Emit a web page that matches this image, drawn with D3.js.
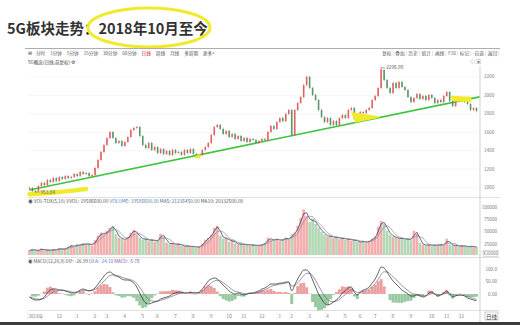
<!DOCTYPE html>
<html>
<head>
<meta charset="utf-8">
<script src="https://cdn.jsdelivr.net/npm/d3@7"></script>
<style>
  body { margin: 0; background: #fff; }
  text { font-family: "Noto Sans CJK SC", "Noto Sans", sans-serif; }
</style>
</head>
<body>
<div id="chart"></div>
<script>
// 收盘价 (约每3个交易日一个点)
const closes = [997, 964, 958, 1018, 1051, 1029, 1083, 1062, 1105, 1072, 1116, 1094, 1126, 1105, 1116, 1148, 1126, 1170, 1148, 1159,
  1126, 1137, 1213, 1299, 1386, 1462, 1537, 1602, 1537, 1483, 1505, 1451, 1494, 1548, 1624, 1646, 1656, 1559, 1462, 1429,
  1483, 1408, 1440, 1375, 1418, 1364, 1397, 1354, 1408, 1375, 1386, 1354, 1408, 1375, 1418, 1364, 1331, 1354, 1408, 1440,
  1483, 1570, 1656, 1678, 1635, 1581, 1613, 1548, 1581, 1527, 1559, 1505, 1537, 1494, 1527, 1516, 1483, 1505, 1527, 1516,
  1602, 1667, 1635, 1710, 1753, 1721, 1797, 1840, 1570, 1840, 1916, 1980, 2110, 2197, 2078, 2002, 1948, 1840, 1764, 1710,
  1753, 1678, 1721, 1678, 1753, 1786, 1753, 1840, 1862, 1743, 1732, 1818, 1808, 1840, 1862, 1948, 1991, 2078, 2272, 2164,
  2078, 2024, 2132, 2078, 2143, 2089, 2056, 1980, 1926, 1970, 2013, 1959, 1991, 1948, 2002, 1970, 1916, 1948, 1926, 1991,
  2035, 1937, 1883, 1948, 1937, 1970, 1926, 1905, 1840, 1862, 1829];
const firstOpen = 985;

// 成交量 (x10000)
const volumes = [12000, 15000, 11000, 13000, 16000, 12000, 14000, 11000, 15000, 13000, 17000, 14000, 16000,
  20000, 23000, 19000, 25000, 22000, 27000, 24000, 26000, 22000,
  33000, 42000, 48000, 44000, 52000, 58000, 62000,
  45000, 38000, 36000, 33000, 40000,
  48000, 54000, 45000,
  38000, 34000, 36000, 31000, 35000, 30000, 33000,
  46000, 40000,
  28000, 25000, 27000, 23000, 26000, 22000,
  20000, 22000, 19000, 21000, 18000, 20000,
  26000, 34000, 38000, 44000,
  58000, 62000,
  42000, 36000, 38000, 30000, 33000,
  27000, 24000, 26000, 23000, 25000, 22000, 24000, 21000, 23000,
  24000, 27000,
  38000, 34000,
  33000, 36000, 31000, 35000, 38000, 34000, 45000,
  48000, 62000, 78000, 95000, 82000,
  70000, 76000, 66000, 58000,
  50000, 44000, 40000, 42000, 37000, 40000, 35000,
  38000, 34000, 36000, 32000, 34000, 30000,
  29000, 31000, 28000, 32000, 36000, 40000,
  60000, 72000, 66000,
  52000, 44000, 40000, 38000, 36000,
  37000, 34000, 36000, 33000,
  52000, 46000,
  28000, 24000, 22000, 25000, 21000, 24000, 22000, 25000, 23000,
  36000,
  24000, 22000, 23000, 20000, 22000, 21000, 19000, 21000, 20000, 19000];

// MACD 的 DIF 线
const dif = [-12, -20, -24, -24, -20, -12, 4, 16, 20, 20, 16, 16, 12, 8, 4, 4, 8, 16, 20, 16,
  12, 16, 24, 40, 56, 72, 84, 88, 80, 72, 68, 60, 56, 56, 52, 44, 28, 4, -20, -36,
  -40, -36, -32, -28, -20, -16, -12, -8, 0, 4, 8, 8, 4, 4, 8, 4, 4, 8, 20, 36,
  52, 60, 64, 60, 48, 36, 24, 12, 4, 0, 4, 0, -4, 0, 4, 4, 8, 12, 20, 24,
  32, 40, 40, 40, 44, 44, 48, 48, 12, 36, 60, 80, 96, 96, 84, 56, 28, 0, -20, -36,
  -44, -40, -32, -24, -12, 4, 12, 24, 28, 8, -4, 8, 16, 20, 28, 44, 60, 84, 108, 104,
  88, 68, 52, 40, 28, 16, 8, 0, -8, -8, -4, -8, -12, -8, 4, 8, 0, -8, -4, 4,
  12, 0, -12, -8, -4, -4, -8, -16, -20, -24, -27];

const priceTicks = [1000, 1200, 1400, 1600, 1800, 2000, 2200];
const volTicks = [25000, 50000, 75000, 100000];
const volTickLabels = ["25000", "50000", "75000", "100000"];
const macdTicks = [0, 50, 100];
const macdTickLabels = ["0.00", "50.00", "100.0"];
const monthLabels = ["2018年", "12", "1", "2", "3", "4", "5", "6", "7", "8", "9", "10", "11",
  "12", "1", "2", "3", "4", "5", "6", "7", "8", "9", "10", "11", "12"];
const monthIdx = [0, 10, 16, 22, 26, 32, 38, 43, 49, 55, 61, 67, 72, 78, 84, 88, 94, 100, 106, 111, 116, 122, 128, 135, 140, 145];

const toolLeft = ["分时", "1分钟", "5分钟", "15分钟", "30分钟", "60分钟", "日线", "周线", "月线", "多周期", "更多>"];
const toolRight = ["复权", "叠加", "历史", "统计", "画线", "F10", "标记", "-自选", "返回"];
const highLabel = 2296.98;
const lowLabel = 953.84;

const svg = d3.select("#chart").append("svg").attr("width", 520).attr("height", 325);

const left = 28, axisX = 480;
const x = d3.scaleLinear().domain([0, closes.length - 1]).range([29.5, 476.5]);
const step = x(1) - x(0);
const yP = d3.scaleLinear().domain([1000, 2200]).range([187.7, 76.7]);
const yV = d3.scaleLinear().domain([0, 100000]).range([256.5, 207]);
const yM = d3.scaleLinear().domain([0, 100]).range([294, 269]);

const up = "#dc5454", down = "#4a8c5c";

// 标题
svg.append("text").attr("x", 7).attr("y", 34)
  .attr("font-size", 14.5).attr("font-weight", 700).attr("fill", "#333")
  .text("5G板块走势：2018年10月至今");

// 黄色圈
svg.append("ellipse").attr("cx", 149).attr("cy", 27.5).attr("rx", 61).attr("ry", 19.5)
  .attr("fill", "none").attr("stroke", "#f1ea2c").attr("stroke-width", 3)
  .attr("stroke-dasharray", "300 12");

// 工具栏
svg.append("line").attr("x1", 25).attr("x2", 500).attr("y1", 48.5).attr("y2", 48.5)
  .attr("stroke", "#999").attr("stroke-width", 0.8);
svg.append("text").attr("x", 28).attr("y", 55).attr("font-size", 4.6).attr("fill", "#555").text("⊞");
let tx = 36;
toolLeft.forEach(t => {
  const el = svg.append("text").attr("x", tx).attr("y", 55).attr("font-size", 4.6)
    .attr("fill", t === "日线" ? "#d02020" : "#555").text(t);
  tx += el.node().getComputedTextLength() + 5;
});
let rx = 497;
toolRight.slice().reverse().forEach(t => {
  const el = svg.append("text").attr("x", rx).attr("y", 55).attr("font-size", 4.6)
    .attr("text-anchor", "end").attr("fill", "#555").text(t);
  const w = el.node().getComputedTextLength();
  svg.append("line").attr("x1", rx + 1.8).attr("x2", rx + 1.8).attr("y1", 50.5).attr("y2", 56)
    .attr("stroke", "#ccc").attr("stroke-width", 0.5);
  rx -= w + 4;
});

svg.append("text").attr("x", 28).attr("y", 64).attr("font-size", 4.6).attr("fill", "#444")
  .text("5G概念(日线,前复权) ⚙");
svg.append("text").attr("x", 470).attr("y", 63).attr("font-size", 5).attr("fill", "#666").text("◇ ▣");

// 框线
svg.append("line").attr("x1", axisX).attr("x2", axisX).attr("y1", 66).attr("y2", 322)
  .attr("stroke", "#bbb").attr("stroke-width", 0.7);
[197.5, 257.5, 310.5].forEach(yy => {
  svg.append("line").attr("x1", left).attr("x2", 500).attr("y1", yy).attr("y2", yy)
    .attr("stroke", "#ccc").attr("stroke-width", 0.6);
});

// 价格网格与刻度
priceTicks.forEach(v => {
  svg.append("line").attr("x1", left).attr("x2", axisX).attr("y1", yP(v)).attr("y2", yP(v))
    .attr("stroke", "#f0f0f3").attr("stroke-width", 0.6);
  svg.append("text").attr("x", 484).attr("y", yP(v) + 1.6).attr("font-size", 4.6)
    .attr("fill", "#777").text(v);
});

// 趋势线 (绿色)
const trend = [[0, 975], [150, 1982]];
svg.append("line")
  .attr("x1", x(trend[0][0])).attr("y1", yP(trend[0][1]))
  .attr("x2", x(trend[1][0]) + 3).attr("y2", yP(trend[1][1]))
  .attr("stroke", "#3ec43e").attr("stroke-width", 1.6);

// K 线
const opens = closes.map((c, i) => i ? closes[i - 1] : firstOpen);
const candles = svg.append("g");
closes.forEach((c, i) => {
  const o = opens[i];
  const top = yP(Math.max(o, c)), bot = yP(Math.min(o, c));
  candles.append("line")
    .attr("x1", x(i)).attr("x2", x(i)).attr("y1", top - 1.2).attr("y2", bot + 1.2)
    .attr("stroke", c >= o ? up : down).attr("stroke-width", 0.5);
  candles.append("rect")
    .attr("x", x(i) - 0.8).attr("width", 1.6)
    .attr("y", top).attr("height", Math.max(1, bot - top))
    .attr("fill", c >= o ? up : down).attr("opacity", 0.85);
});

// 最高/最低标注
const iHi = closes.indexOf(d3.max(closes));
const iLo = closes.indexOf(d3.min(closes));
candles.append("line").attr("x1", x(iHi)).attr("x2", x(iHi)).attr("y1", yP(highLabel)).attr("y2", yP(closes[iHi]))
  .attr("stroke", up).attr("stroke-width", 0.8);
candles.append("line").attr("x1", x(iLo)).attr("x2", x(iLo)).attr("y1", yP(lowLabel)).attr("y2", yP(closes[iLo]))
  .attr("stroke", down).attr("stroke-width", 0.8);
svg.append("path").attr("d", `M${x(iHi)},${yP(highLabel)}h4`).attr("stroke", "#555").attr("stroke-width", 0.5);
svg.append("text").attr("x", x(iHi) + 5).attr("y", yP(highLabel) + 1.6).attr("font-size", 4.8)
  .attr("fill", "#555").text(highLabel.toFixed(2));

// 黄色标记
const hl = svg.append("g").attr("fill", "none").attr("stroke", "#f1ea2c").attr("stroke-linecap", "round");
const lineP = d3.line().x(d => x(d[0])).y(d => yP(d[1])).curve(d3.curveBasis);
hl.append("path").attr("d", lineP([[0, 928], [8, 945], [19, 986]])).attr("stroke-width", 4.5);
hl.append("path").attr("d", lineP([[56, 1330], [57, 1345]])).attr("stroke-width", 3);
hl.append("path").attr("d", `M${x(108.3)},${yP(1807)} L${x(117.3)},${yP(1764)} L${x(109.5)},${yP(1712)} Z`)
  .attr("fill", "#f1ea2c").attr("stroke-width", 1.5);
hl.append("path").attr("d", `M${x(141.5)},${yP(1985)} L${x(148)},${yP(1975)} L${x(148)},${yP(1935)} L${x(142.5)},${yP(1940)} Z`)
  .attr("fill", "#f1ea2c").attr("stroke-width", 1.5);

svg.append("path").attr("d", `M${x(iLo) - 1},${yP(lowLabel)}h5`).attr("stroke", "#555").attr("stroke-width", 0.5);
svg.append("text").attr("x", x(iLo) + 5).attr("y", yP(lowLabel) + 1.6).attr("font-size", 4.8)
  .attr("fill", "#555").text(lowLabel.toFixed(2));

// 成交量面板
const volHead = svg.append("text").attr("x", 28).attr("y", 203).attr("font-size", 4.8);
volHead.append("tspan").attr("fill", "#555").text("◉ VOL-TDX(5,10)  VVOL: 19586600.00  ");
volHead.append("tspan").attr("fill", "#4a80b8").text("VOLUME: 19586600.00  ");
volHead.append("tspan").attr("fill", "#4a6a90").text("MA5: 21216450.00  ");
volHead.append("tspan").attr("fill", "#555").text("MA10: 20332500.00");

volumes.forEach((v, i) => {
  svg.append("rect")
    .attr("x", x(i) - step * 0.45).attr("width", step * 0.9)
    .attr("y", yV(v)).attr("height", Math.min(255, yV(0)) - yV(v))
    .attr("fill", closes[i] >= opens[i] ? "#f39a9a" : "#9fcfa4").attr("opacity", 0.8);
});
const ma = (arr, n) => arr.map((d, i) => d3.mean(arr.slice(Math.max(0, i - n + 1), i + 1)));
const lineV = d3.line().x((d, i) => x(i)).y(d => yV(d));
svg.append("path").attr("d", lineV(ma(volumes, 2))).attr("fill", "none").attr("stroke", "#2b2d55").attr("stroke-width", 0.7);
svg.append("path").attr("d", lineV(ma(volumes, 4))).attr("fill", "none").attr("stroke", "#8a8a9a").attr("stroke-width", 0.7);
volTicks.forEach((v, k) => {
  svg.append("text").attr("x", 497).attr("y", yV(v) + 1.6).attr("font-size", 4.6)
    .attr("text-anchor", "end").attr("fill", "#777").text(volTickLabels[k]);
});
svg.append("rect").attr("x", 483).attr("y", 250.5).attr("width", 15).attr("height", 6)
  .attr("fill", "#fff").attr("stroke", "#bbb").attr("stroke-width", 0.5);
svg.append("text").attr("x", 490.5).attr("y", 255).attr("font-size", 4.4).attr("text-anchor", "middle")
  .attr("fill", "#777").text("X10000");

// MACD 面板
const dea = [];
dif.forEach((d, i) => dea.push(i ? dea[i - 1] + 0.4 * (d - dea[i - 1]) : d));
const macd = dif.map((d, i) => 2 * (d - dea[i]));

const mHead = svg.append("text").attr("x", 28).attr("y", 263).attr("font-size", 4.6);
mHead.append("tspan").attr("fill", "#555").text("◉ MACD(12,26,9)  DIF: -26.99  ");
mHead.append("tspan").attr("fill", "#4a80b8").text("DEA: -24.10  ");
mHead.append("tspan").attr("fill", "#8a4a9a").text("MACD: -5.78");

macd.forEach((m, i) => {
  svg.append("rect")
    .attr("x", x(i) - step * 0.5).attr("width", step)
    .attr("y", Math.min(yM(0), yM(m))).attr("height", Math.abs(yM(m) - yM(0)))
    .attr("fill", m >= 0 ? "#e88f8f" : "#86c08f").attr("opacity", 0.85);
});
const lineM = d3.line().x((d, i) => x(i)).y(d => yM(d)).curve(d3.curveMonotoneX);
svg.append("path").attr("d", lineM(dea)).attr("fill", "none").attr("stroke", "#6a6a7a").attr("stroke-width", 0.7);
svg.append("path").attr("d", lineM(dif)).attr("fill", "none").attr("stroke", "#222").attr("stroke-width", 0.7);
macdTicks.forEach((v, k) => {
  svg.append("text").attr("x", 497).attr("y", yM(v) + 1.6).attr("font-size", 4.6)
    .attr("text-anchor", "end").attr("fill", "#777").text(macdTickLabels[k]);
});

// 月份轴
monthLabels.forEach((t, k) => {
  const xx = x(monthIdx[k]);
  svg.append("line").attr("x1", xx - 2).attr("x2", xx - 2).attr("y1", 312).attr("y2", 319)
    .attr("stroke", "#e4e4e4").attr("stroke-width", 0.5);
  svg.append("text").attr("x", k === 0 ? xx - 1 : xx).attr("y", 318).attr("font-size", 4.6)
    .attr("text-anchor", k === 0 ? "start" : "middle").attr("fill", "#777").text(t);
});
svg.append("rect").attr("x", 485).attr("y", 312).attr("width", 13).attr("height", 8)
  .attr("fill", "#fff").attr("stroke", "#999").attr("stroke-width", 0.5);
svg.append("text").attr("x", 491.5).attr("y", 318.5).attr("font-size", 5.5).attr("text-anchor", "middle")
  .attr("fill", "#333").text("日线");

// 底部暗条
svg.append("rect").attr("x", 0).attr("y", 322).attr("width", 520).attr("height", 3).attr("fill", "#3c3c3c");
</script>
</body>
</html>
